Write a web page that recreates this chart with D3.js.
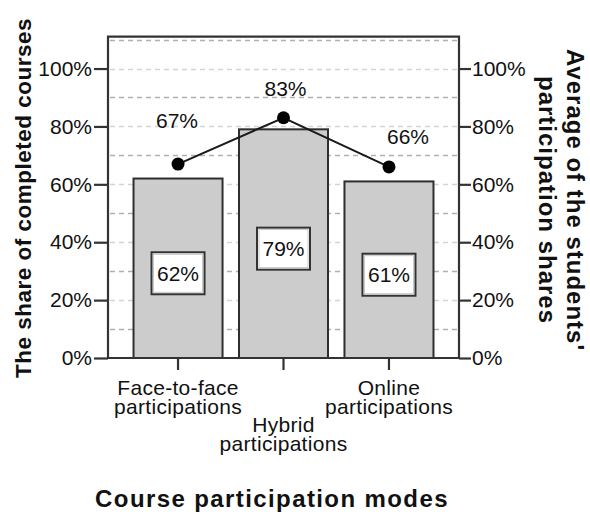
<!DOCTYPE html>
<html>
<head>
<meta charset="utf-8">
<script src="https://cdn.jsdelivr.net/npm/d3@7"></script>
<style>
  html, body { margin: 0; padding: 0; background: #ffffff; }
  svg { display: block; font-family: "Liberation Sans", Arial, sans-serif; }
</style>
</head>
<body>
<svg id="chart" width="590" height="515"></svg>
<script>
// ---- data ----
const categories = ["Face-to-face participations", "Hybrid participations", "Online participations"];
const categoryLines = [["Face-to-face", "participations"], ["Hybrid", "participations"], ["Online", "participations"]];
const completedShare = [62, 79, 61];          // bars (left axis)
const participationShare = [67, 83, 66];      // line (right axis)
const tickValues = [0, 20, 40, 60, 80, 100];
const gridValues = [10, 20, 30, 40, 50, 60, 70, 80, 90, 100, 110];

// ---- layout (not data) ----
const lineLabelDx = [-1, 2, 19];
const lineLabelDy = [-36, -22, -23];
const catLabelDy = [0, 37, 0];

const svg = d3.select("#chart");
const pL = 108, pR = 459, pT = 36.7, pB = 358;

const x = d3.scaleBand().domain(categories).range([pL, pR])
  .paddingInner(0.156).paddingOuter(0.242);
const y = d3.scaleLinear().domain([0, 111]).range([pB, pT]);
const y2 = d3.scaleLinear().domain([0, 111]).range([pB, pT]);

// gridlines
svg.append("g").selectAll("line").data(gridValues).join("line")
  .attr("x1", pL + 2).attr("x2", pR - 2)
  .attr("y1", d => Math.round(y(d)) + 0.5).attr("y2", d => Math.round(y(d)) + 0.5)
  .attr("stroke", d => d % 20 === 0 ? "#d4d4d4" : "#b0b0b0")
  .attr("stroke-width", 1.5)
  .attr("stroke-dasharray", "5,4");

// bars
svg.append("g").selectAll("rect").data(completedShare).join("rect")
  .attr("x", (d, i) => x(categories[i]))
  .attr("y", d => y(d))
  .attr("width", x.bandwidth())
  .attr("height", d => pB - y(d))
  .attr("fill", "#cccccc")
  .attr("stroke", "#2e2e2e")
  .attr("stroke-width", 2);

// value boxes
const boxW = 53, boxH = 42;
const boxes = svg.append("g").selectAll("g").data(completedShare).join("g")
  .attr("transform", (d, i) => `translate(${x(categories[i]) + x.bandwidth() / 2},${y(d / 2) + 5})`);
boxes.append("rect")
  .attr("x", -boxW / 2).attr("y", -boxH / 2)
  .attr("width", boxW).attr("height", boxH)
  .attr("fill", "#ffffff").attr("stroke", "#333333").attr("stroke-width", 2);
boxes.append("rect")
  .attr("x", -boxW / 2 + 2).attr("y", -boxH / 2 + 2)
  .attr("width", boxW - 4).attr("height", boxH - 4)
  .attr("fill", "none").attr("stroke", "#bbbbbb").attr("stroke-width", 0.8);
boxes.append("text")
  .attr("text-anchor", "middle").attr("y", 7.5)
  .attr("font-size", 21).attr("fill", "#111")
  .text(d => d + "%");

// frame
svg.append("path")
  .attr("d", `M${pL},${pB}V${pT}H${pR}V${pB}`)
  .attr("fill", "none").attr("stroke", "#333333").attr("stroke-width", 2.2);

// left axis
const yAxis = d3.axisLeft(y).tickValues(tickValues).tickSize(14).tickPadding(2)
  .tickFormat(d => d + "%");
const gl = svg.append("g").attr("transform", `translate(${pL},0)`).call(yAxis);
gl.select(".domain").remove();
gl.selectAll(".tick line").attr("stroke", "#333").attr("stroke-width", 2.2);
gl.selectAll(".tick text").attr("font-size", 21).attr("fill", "#111")
  .attr("font-family", "Liberation Sans, Arial, sans-serif");

// right axis
const yAxisR = d3.axisRight(y2).tickValues(tickValues).tickSize(12).tickPadding(1)
  .tickFormat(d => d + "%");
const gr = svg.append("g").attr("transform", `translate(${pR},0)`).call(yAxisR);
gr.select(".domain").remove();
gr.selectAll(".tick line").attr("stroke", "#333").attr("stroke-width", 2.2);
gr.selectAll(".tick text").attr("font-size", 21).attr("fill", "#111")
  .attr("font-family", "Liberation Sans, Arial, sans-serif");

// bottom axis
const xAxis = d3.axisBottom(x).tickSize(12).tickFormat("");
const gb = svg.append("g").attr("transform", `translate(0,${pB})`).call(xAxis);
gb.select(".domain").attr("d", `M${pL},0H${pR}`).attr("stroke", "#333").attr("stroke-width", 2.2);
gb.selectAll(".tick line").attr("stroke", "#333").attr("stroke-width", 2.2);

// category labels
const cl = svg.append("g").selectAll("text").data(categories).join("text")
  .attr("text-anchor", "middle")
  .attr("font-size", 21).attr("fill", "#111").attr("letter-spacing", 0.3)
  .attr("transform", (d, i) => `translate(${x(d) + x.bandwidth() / 2},${pB + 37 + catLabelDy[i]})`);
cl.each(function (d, i) {
  const t = d3.select(this);
  categoryLines[i].forEach((s, k) => {
    t.append("tspan").attr("x", 0).attr("y", k * 19).text(s);
  });
});

// line series
const cx = (d, i) => x(categories[i]) + x.bandwidth() / 2;
svg.append("path")
  .datum(participationShare)
  .attr("d", d3.line().x(cx).y(d => y2(d)))
  .attr("fill", "none").attr("stroke", "#1a1a1a").attr("stroke-width", 2);
svg.append("g").selectAll("circle").data(participationShare).join("circle")
  .attr("cx", cx).attr("cy", d => y2(d)).attr("r", 6.5)
  .attr("fill", "#000");
svg.append("g").selectAll("text").data(participationShare).join("text")
  .attr("text-anchor", "middle").attr("font-size", 21).attr("fill", "#111")
  .attr("x", (d, i) => cx(d, i) + lineLabelDx[i])
  .attr("y", (d, i) => y2(d) + lineLabelDy[i])
  .text(d => d + "%");

// axis titles
svg.append("text")
  .attr("transform", "translate(31,198) rotate(-90)")
  .attr("text-anchor", "middle").attr("font-weight", "bold")
  .attr("font-size", 22.5).attr("letter-spacing", 0.5).attr("fill", "#111")
  .text("The share of completed courses");

const rt = svg.append("text")
  .attr("transform", "translate(567,200) rotate(90)")
  .attr("text-anchor", "middle").attr("font-weight", "bold")
  .attr("font-size", 24).attr("letter-spacing", 1).attr("fill", "#111");
rt.append("tspan").attr("x", 0).attr("y", 0).text("Average of the students'");
rt.append("tspan").attr("x", 0).attr("y", 28).text("participation shares");

svg.append("text")
  .attr("x", 272).attr("y", 507)
  .attr("text-anchor", "middle").attr("font-weight", "bold")
  .attr("font-size", 24).attr("letter-spacing", 1.4).attr("fill", "#111")
  .text("Course participation modes");
</script>
</body>
</html>
